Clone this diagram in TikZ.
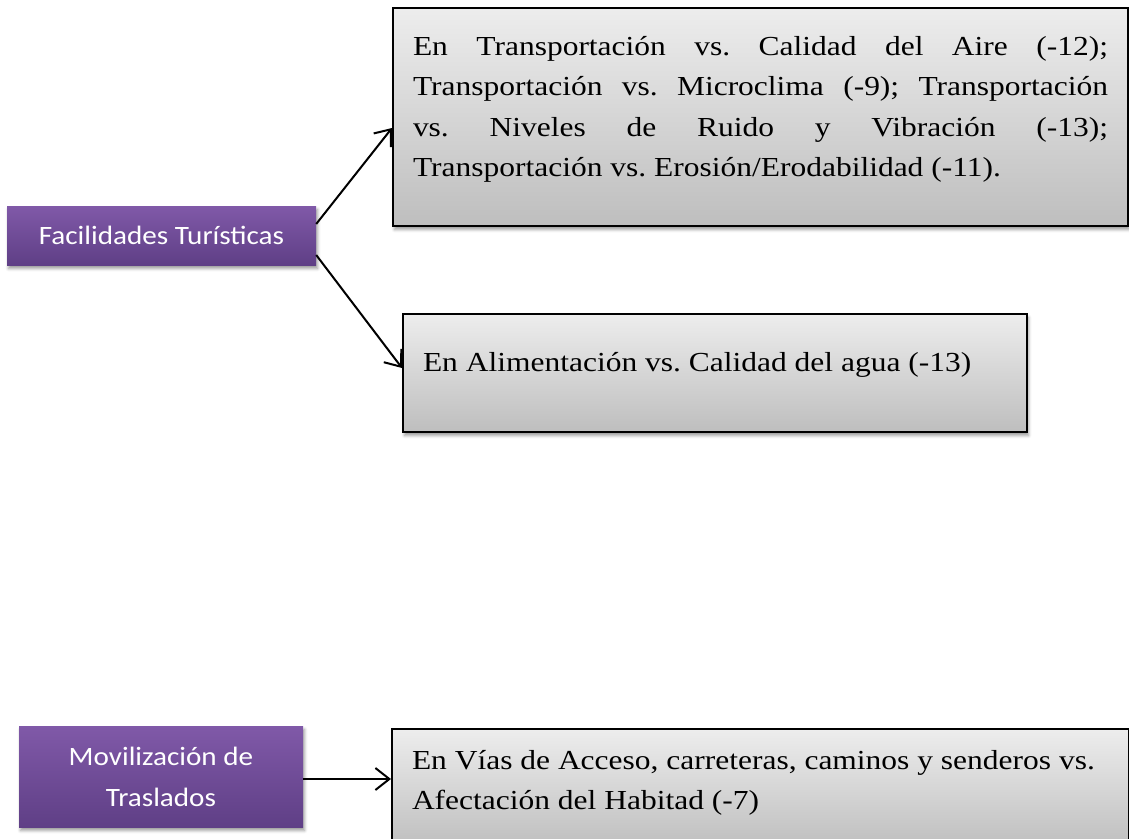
\documentclass[tikz,border=0pt]{standalone}
\usepackage{fontspec}
\setmainfont{Liberation Serif}[FakeStretch=1.145]
\newfontfamily\calibri{Carlito}[FakeStretch=1.1]
\usepackage{tikz}
\usetikzlibrary{arrows.meta, shadows.blur}

\definecolor{moradoarriba}{HTML}{8059A8}
\definecolor{moradoabajo}{HTML}{5F3F86}
\definecolor{grisarriba}{HTML}{EDEDED}
\definecolor{grisabajo}{HTML}{BEBEBE}

% height, width, first line, text
\newcommand{\textoimpacto}[4]{\parbox[c][#1][t]{#2}{\frenchspacing\rule{0pt}{#3}#4}}

\begin{document}
\begin{tikzpicture}[x=1pt, y=-1pt,
  actividad/.style={inner sep=0pt, text=white, align=center, top color=moradoarriba, bottom color=moradoabajo,
    blur shadow={shadow xshift=1.5pt, shadow yshift=-3.5pt, shadow blur radius=3pt},
    font=\calibri\fontsize{26.5}{41}\selectfont},
  impacto/.style={draw=black, line width=2pt, inner ysep=0pt, inner xsep=20pt, top color=grisarriba, bottom color=grisabajo,
    blur shadow={shadow xshift=1.5pt, shadow yshift=-3.5pt, shadow blur radius=3pt},
    font=\fontsize{27.5}{40.5}\selectfont},
  flecha/.style={line width=2pt, -{Straight Barb[length=14pt,width=22pt]}}]
\useasboundingbox (0,0) rectangle (1129,838);
\node[actividad, minimum width=309pt, minimum height=59pt] (facil) at (161.5,235.5) {Facilidades Turísticas};
\node[actividad, minimum width=284pt, minimum height=101pt] (movil) at (161,776.5) {Movilización de\\Traslados};
% cuadros de impactos
\node[impacto, anchor=north west] (aire) at (392,7) {\textoimpacto{218pt}{695pt}{47pt}{En Transportación vs. Calidad del Aire (-12);\linebreak Transportación vs. Microclima (-9); Transportación\linebreak vs. Niveles de Ruido y Vibración (-13);\linebreak Transportación vs. Erosión/Erodabilidad (-11).}};
\node[impacto, anchor=north west] (agua) at (402,313) {\textoimpacto{118pt}{584pt}{57pt}{En Alimentación vs. Calidad del agua (-13)}};
\node[impacto, anchor=north west] (habitat) at (391,728) {\textoimpacto{120pt}{697pt}{40pt}{\raggedright En Vías de Acceso, carreteras, caminos y senderos vs.\\ Afectación del Habitad (-7)}};
\draw[flecha] ([yshift=11.5pt]facil.east) -- ([yshift=-11pt]aire.west);
\draw[flecha] ([yshift=-19.5pt]facil.east) -- ([yshift=5pt]agua.west);
\draw[flecha] ([yshift=-2.5pt]movil.east) -- ([yshift=-2.5pt]movil.east -| habitat.west);
\end{tikzpicture}
\end{document}
